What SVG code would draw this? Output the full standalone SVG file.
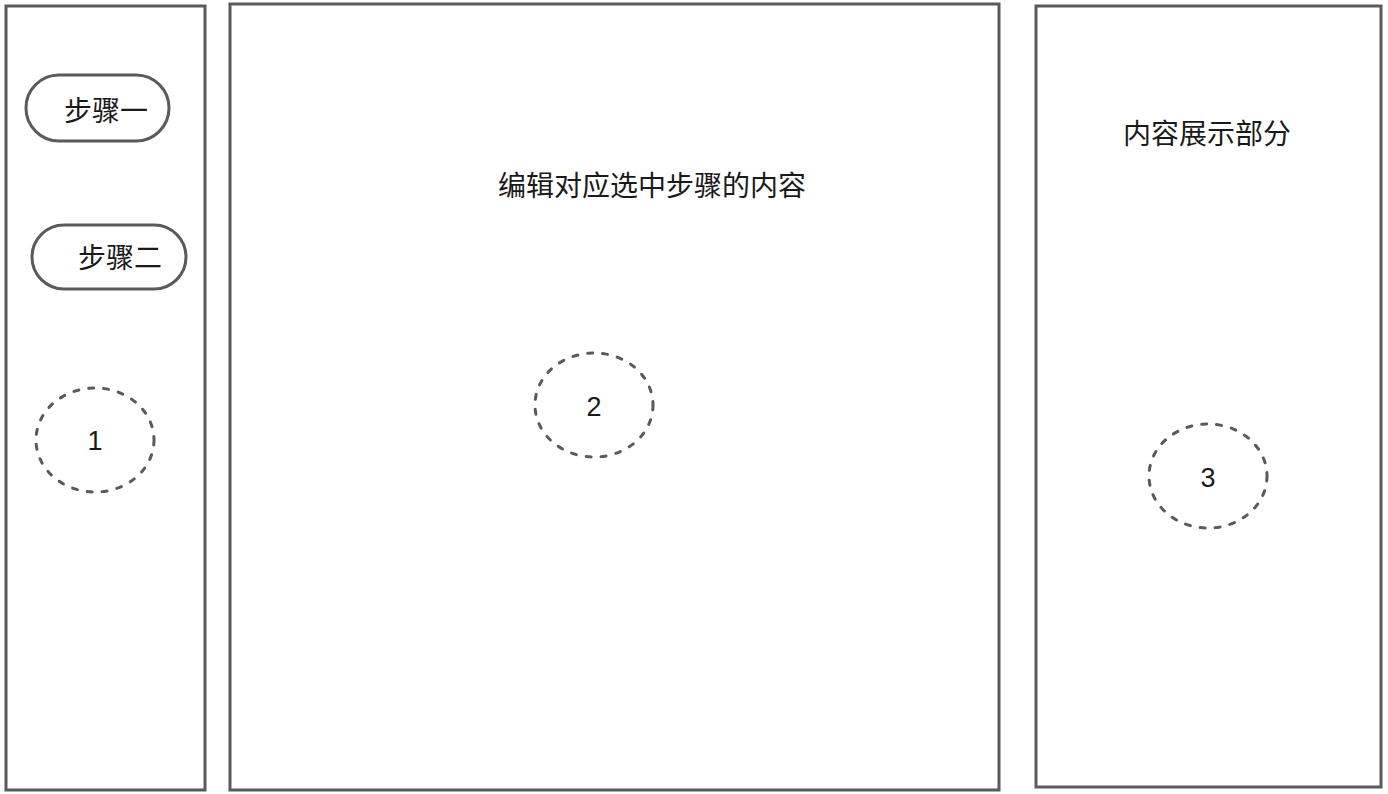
<svg xmlns="http://www.w3.org/2000/svg" width="1388" height="794" viewBox="0 0 1388 794">
<style>
.box{fill:#fff;stroke:#5a5a5a;stroke-width:3}
.pill{fill:#fff;stroke:#5a5a5a;stroke-width:3}
.dash{fill:none;stroke:#5a5a5a;stroke-width:3;stroke-dasharray:5 10;stroke-linecap:round}
.t{font-family:"Liberation Sans","Noto Sans CJK SC",sans-serif;font-size:28px;fill:#1a1a1a;text-anchor:middle;dominant-baseline:central}
.n{font-family:"Liberation Sans","Noto Sans CJK SC",sans-serif;font-size:27px;fill:#1a1a1a;text-anchor:middle;dominant-baseline:central}
</style>
<rect width="1388" height="794" fill="#fff"/>
<g id="panel-left">
<rect class="box" x="6" y="6" width="199" height="784"/>
</g>
<g id="panel-middle">
<rect class="box" x="230" y="4" width="769" height="786"/>
<text class="t" x="652" y="186">编辑对应选中步骤的内容</text>
</g>
<g id="panel-right">
<rect class="box" x="1036" y="6" width="345" height="781"/>
<text class="t" x="1207" y="134">内容展示部分</text>
</g>
<g id="step1">
<rect class="pill" x="26" y="75" width="143" height="66" rx="33"/>
<text class="t" x="106" y="111">步骤一</text>
</g>
<g id="step2">
<rect class="pill" x="32" y="225" width="154" height="64" rx="32"/>
<text class="t" x="120" y="258">步骤二</text>
</g>
<g id="marker1">
<ellipse class="dash" cx="95" cy="440" rx="59" ry="52"/>
<text class="n" x="95" y="441">1</text>
</g>
<g id="marker2">
<ellipse class="dash" cx="594" cy="405" rx="59" ry="52"/>
<text class="n" x="594" y="407">2</text>
</g>
<g id="marker3">
<ellipse class="dash" cx="1208" cy="476" rx="59" ry="52"/>
<text class="n" x="1208" y="478">3</text>
</g>
<g id="connectors"></g>
</svg>
